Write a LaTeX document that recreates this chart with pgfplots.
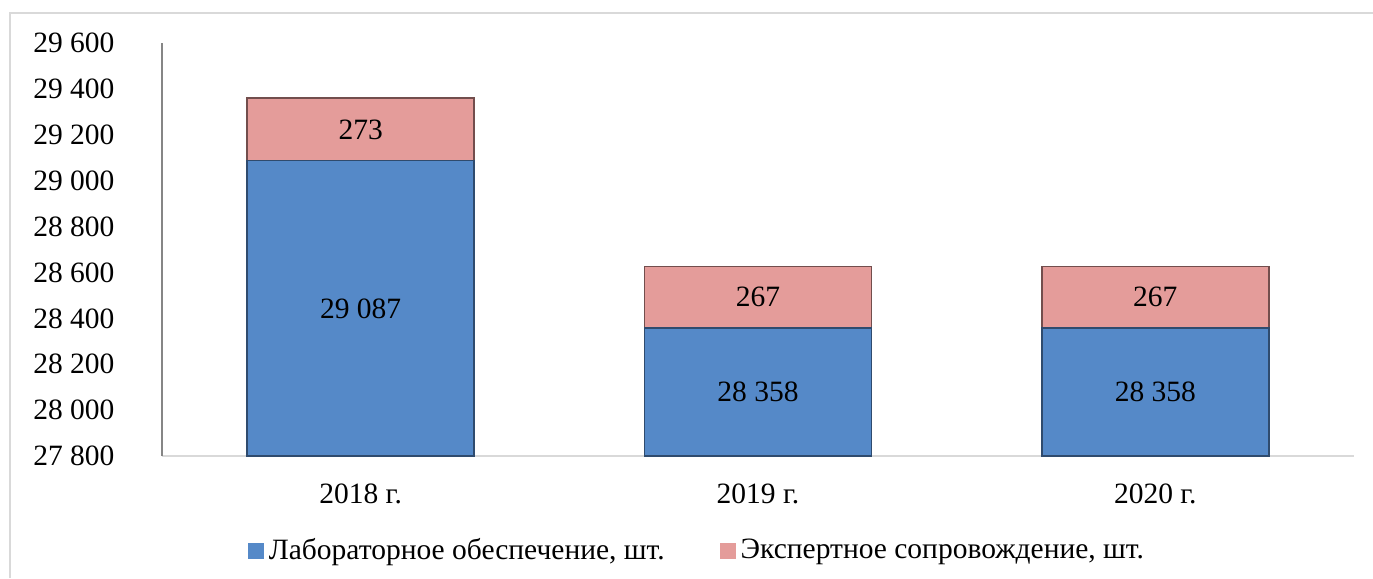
\documentclass[border=0pt]{standalone}
\usepackage{pgfplots}
\pgfplotsset{compat=1.18}
\usepackage{fontspec}
\setmainfont{Liberation Serif}

\definecolor{labblue}{RGB}{85,137,200}
\definecolor{exppink}{RGB}{228,156,154}
\definecolor{framegray}{RGB}{217,217,217}
\definecolor{axisgray}{RGB}{134,134,134}

\begin{document}
\fontsize{11.8}{14}\selectfont
\begin{tikzpicture}
\begin{axis}[
    at={(0,0)}, anchor=south west,
    scale only axis,
    width=476.8pt, height=165.2pt,
    ybar stacked,
    bar width=90.8pt,
    xmin=-0.5, xmax=2.5,
    ymin=27800, ymax=29600,
    ytick={27800,28000,...,29600},
    scaled y ticks=false,
    xtick={0,1,2},
    xticklabels={2018 г., 2019 г., 2020 г.},
    major tick length=0pt,
    axis x line*=bottom,
    axis y line*=left,
    x axis line style={draw=framegray, line width=0.8pt},
    y axis line style={draw=axisgray, line width=0.6pt},
    yticklabel style={anchor=east, xshift=-14.9pt},
    xticklabel style={yshift=-7pt},
    /pgf/number format/.cd, fixed, precision=0, 1000 sep={\ }, assume math mode=true,
    /pgfplots/.cd,
    point meta=explicit,
    legend style={at={(0.45,-0.23)}, anchor=center, draw=none,
        legend columns=2, /tikz/every even column/.append style={column sep=20pt},
        inner sep=0pt, /tikz/every node/.append style={inner xsep=2pt}},
    legend image code/.code={\fill[#1, draw=none] (0pt,-3.2pt) rectangle (6.4pt,3.2pt);},
    legend cell align=left,
]
% stacked labels sit in the middle of the bar from 0; lift them to the middle of the visible part
\addplot+[fill=labblue, draw=labblue!55!black, line width=0.6pt,
    nodes near coords,
    every node near coord/.append style={anchor=center, text=black,
        shift={(axis direction cs:0,13900)}}]
  coordinates {(0,29087) [29087] (1,28358) [28358] (2,28358) [28358]};
\addlegendentry{Лабораторное обеспечение, шт.}
\addplot+[fill=exppink, draw=exppink!50!black, line width=0.6pt,
    nodes near coords,
    every node near coord/.append style={anchor=center, text=black}]
  coordinates {(0,273) [273] (1,267) [267] (2,267) [267]};
\addlegendentry{Экспертное сопровождение, шт.}
\end{axis}
\draw[framegray, line width=0.8pt] (-60.8pt,-48.8pt) -- (-60.8pt,177.2pt) -- (484.4pt,177.2pt);
\pgfresetboundingbox
\path[use as bounding box] (-64.8pt,-48.8pt) rectangle (484.4pt,182.4pt);
\end{tikzpicture}
\end{document}
